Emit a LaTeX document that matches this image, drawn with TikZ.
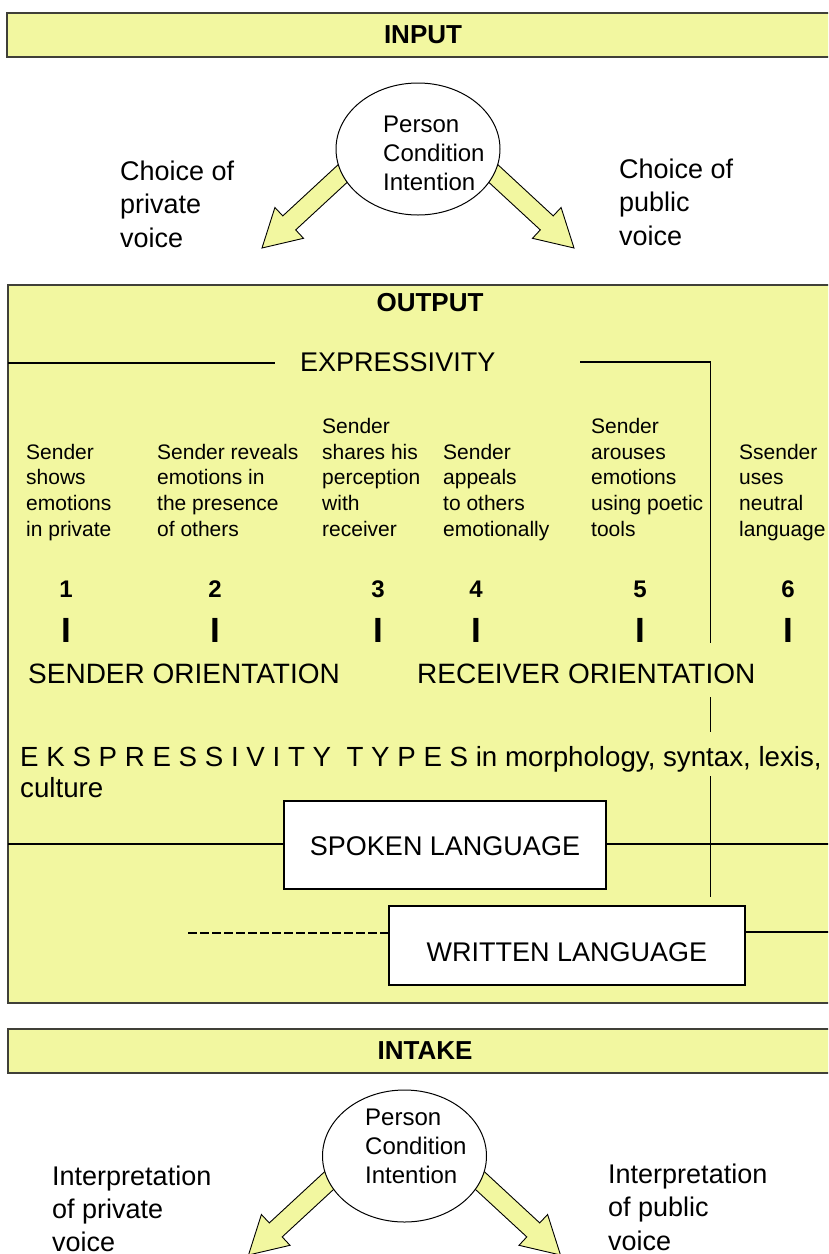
\documentclass[tikz,border=0pt]{standalone}
\usepackage{fontspec}
\setmainfont{Liberation Sans}
\usetikzlibrary{shapes.geometric}
\definecolor{pyellow}{RGB}{242,247,160}
\definecolor{bandline}{RGB}{64,64,56}
\newcommand{\mlines}[1]{\begin{tabular}[t]{@{}l@{}}#1\end{tabular}}
\tikzset{
  tarrow/.style={draw,line width=0.9pt,fill=pyellow,line join=miter},
  leftblk/.pic={\draw[tarrow] (-69.2,5.8) -- (-135.2,66.9) -- (-143.1,58.5) -- (-156,99) -- (-114.5,89.3) -- (-122.3,80.9) -- (-56.2,19.8) -- cycle;},
  rightblk/.pic={\draw[tarrow] (69.2,5.8) -- (135.2,66.9) -- (143.1,58.5) -- (156,99) -- (114.5,89.3) -- (122.3,80.9) -- (56.2,19.8) -- cycle;}
}
\begin{document}
\begin{tikzpicture}[x=1pt,y=-1pt,
  tband/.style={draw=bandline,line width=1.6pt,fill=pyellow},
  ttitle/.style={font=\fontsize{26}{30}\selectfont\bfseries,inner sep=0},
  tbig/.style={font=\fontsize{27}{33.5}\selectfont,inner sep=0,anchor=base west},
  tmid/.style={font=\fontsize{24}{29}\selectfont,inner sep=0,anchor=base west},
  tsmall/.style={font=\fontsize{21}{25.75}\selectfont,inner sep=0,anchor=base west},
  tnum/.style={font=\fontsize{24}{28}\selectfont\bfseries,inner sep=0,anchor=base},
  tbar/.style={font=\fontsize{35}{40}\selectfont\bfseries,inner sep=0,anchor=base},
  toval/.style={ellipse,draw,line width=1pt,fill=white,minimum width=164pt,minimum height=132pt,inner sep=0},
  tlang/.style={draw,line width=1.2pt,fill=white,inner sep=0},
  trule/.style={line width=1.3pt}]
\useasboundingbox (0,0) rectangle (828,1254);
\clip (0,0) rectangle (828,1254);
\fill[white] (0,0) rectangle (828,1254);

% ---------- INPUT ----------
\draw[tband] (7,13) rectangle (850,57);
\node[ttitle] (inputtitle) at (423,35) {INPUT};
\pic at (418,149) {leftblk};
\pic at (418,149) {rightblk};
\node[toval] (topoval) at (418,149) {};
\node[tmid] (toptext) at (383,132) {\mlines{Person\\Condition\\Intention}};
\node[tbig] (choicepriv) at (120,180) {\mlines{Choice of\\private\\voice}};
\node[tbig] (choicepub) at (619,178) {\mlines{Choice of\\public\\voice}};

% ---------- OUTPUT ----------
\draw[tband] (8,285) rectangle (850,1003);
\node[ttitle] (outputtitle) at (430,303) {OUTPUT};
\node[tbig] (expr) at (300,371) {EXPRESSIVITY};
\draw[trule] (8,363) -- (275,363);
\draw[trule] (580,362) -- (710.5,362) -- (710.5,643);
\draw[trule] (710.5,697) -- (710.5,732);
\draw[trule] (710.5,776) -- (710.5,897);

\node[tsmall] (c1) at (26,459) {\mlines{Sender\\shows\\emotions\\in private}};
\node[tsmall] (c2) at (157,459) {\mlines{Sender reveals\\emotions in\\the presence\\of others}};
\node[tsmall] (c3) at (322,433.25) {\mlines{Sender\\shares his\\perception\\with\\receiver}};
\node[tsmall] (c4) at (443,459) {\mlines{Sender\\appeals\\to others\\emotionally}};
\node[tsmall] (c5) at (591,433.25) {\mlines{Sender\\arouses\\emotions\\using poetic\\tools}};
\node[tsmall] (c6) at (739,459) {\mlines{Ssender\\uses\\neutral\\language}};

\foreach \xx/\nn in {66/1,215/2,378/3,476/4,640/5,788/6}{
  \node[tnum] (n\nn) at (\xx,597) {\nn};
  \node[tbar] (b\nn) at (\xx,642) {I};
}

\node[tbig,font=\fontsize{28}{33}\selectfont] (sendor) at (28,683) {SENDER ORIENTATION};
\node[tbig,font=\fontsize{28}{33}\selectfont] (recor) at (417,683) {RECEIVER ORIENTATION};
\node[tbig,font=\fontsize{27.7}{31}\selectfont] (types) at (20,766) {\mlines{E K S P R E S S I V I T Y \ T Y P E S in morphology, syntax, lexis,\\culture}};

\node[tlang,minimum width=322pt,minimum height=88pt] (spoken) at (445,845) {};
\node[tbig,anchor=base] (spokentext) at (445,855.5) {SPOKEN LANGUAGE};
\draw[trule] (8,844) -- (spoken.west |- 0,844);
\draw[trule] (spoken.east |- 0,844) -- (850,844);

\node[tlang,minimum width=356pt,minimum height=79pt] (written) at (567,945.5) {};
\node[tbig,anchor=base] (writtentext) at (567,961) {WRITTEN LANGUAGE};
\coordinate (dashstart) at (188,933);
\draw[line width=2.6pt,dash pattern=on 8.5pt off 3.5pt] (dashstart) -- (written.west |- 0,933);
\draw[trule] (written.east |- 0,932) -- (850,932);

% ---------- INTAKE ----------
\draw[tband] (8,1029) rectangle (850,1073);
\node[ttitle] (intaketitle) at (425,1051) {INTAKE};
\pic at (404.5,1156) {leftblk};
\pic at (404.5,1156) {rightblk};
\node[toval] (botoval) at (404.5,1156) {};
\node[tmid] (bottext) at (365,1125) {\mlines{Person\\Condition\\Intention}};
\node[tbig,font=\fontsize{27}{33}\selectfont] (interpriv) at (52,1185) {\mlines{Interpretation\\of private\\voice}};
\node[tbig] (interpub) at (608,1183) {\mlines{Interpretation\\of public\\voice}};
\end{tikzpicture}
\end{document}
